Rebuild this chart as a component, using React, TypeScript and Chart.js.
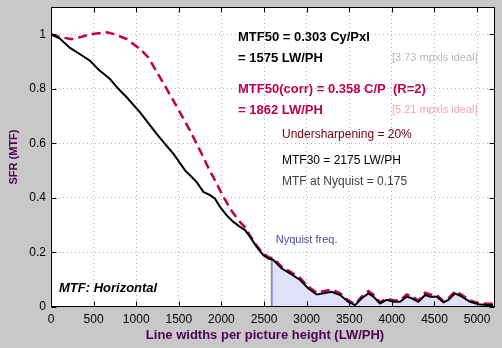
import React, { useEffect, useRef } from 'react';
import { Chart, registerables } from 'chart.js';

Chart.register(...registerables);

// Measured MTF (black solid)
const mtfFreq = [0, 100, 223, 350, 458, 560, 692, 790, 888, 1045, 1140, 1240, 1340, 1436, 1520, 1575, 1631, 1710, 1788, 1866, 1925, 1984, 2062, 2140, 2218, 2277, 2336, 2414, 2492, 2551, 2590, 2610, 2708, 2805, 2923, 3020, 3118, 3196, 3294, 3392, 3490, 3568, 3646, 3724, 3783, 3861, 3940, 4018, 4096, 4174, 4233, 4311, 4390, 4448, 4527, 4605, 4663, 4742, 4820, 4918, 5016, 5113, 5188];
const mtfValue = [1.0, 0.985, 0.95, 0.925, 0.903, 0.87, 0.836, 0.8, 0.769, 0.714, 0.675, 0.635, 0.597, 0.562, 0.525, 0.5, 0.483, 0.458, 0.422, 0.41, 0.397, 0.367, 0.336, 0.312, 0.294, 0.282, 0.257, 0.22, 0.19, 0.178, 0.175, 0.172, 0.141, 0.123, 0.099, 0.068, 0.046, 0.05, 0.056, 0.044, 0.019, 0.007, 0.032, 0.05, 0.038, 0.013, 0.026, 0.019, 0.019, 0.038, 0.032, 0.019, 0.044, 0.038, 0.038, 0.017, 0.026, 0.05, 0.038, 0.019, 0.01, 0.007, 0.007];

// Corrected MTF (crimson dashed)
const corrFreq = [0, 100, 243, 350, 458, 560, 653, 751, 888, 1045, 1142, 1279, 1436, 1631, 1768, 1862, 1905, 2003, 2101, 2199, 2277, 2336, 2414, 2492, 2551, 2610, 2708, 2805, 2923, 3020, 3118, 3196, 3294, 3392, 3490, 3568, 3646, 3724, 3783, 3861, 3940, 4018, 4096, 4174, 4233, 4311, 4390, 4448, 4527, 4605, 4663, 4742, 4820, 4918, 5016, 5113, 5188];
const corrValue = [1.0, 0.99, 0.982, 0.99, 1.0, 1.004, 1.007, 1.0, 0.982, 0.946, 0.915, 0.842, 0.757, 0.647, 0.562, 0.5, 0.476, 0.416, 0.361, 0.318, 0.292, 0.262, 0.224, 0.195, 0.183, 0.178, 0.147, 0.13, 0.106, 0.074, 0.052, 0.058, 0.064, 0.05, 0.024, 0.01, 0.038, 0.058, 0.045, 0.017, 0.031, 0.024, 0.024, 0.046, 0.04, 0.024, 0.052, 0.046, 0.044, 0.021, 0.032, 0.058, 0.045, 0.024, 0.014, 0.012, 0.012];

const xTickValues = [0, 500, 1000, 1500, 2000, 2500, 3000, 3500, 4000, 4500, 5000];
const yTickValues = [0, 0.2, 0.4, 0.6, 0.8, 1];
const xMax = 5210;
const yMax = 1.1;
const nyquistFreq = 2590;
const nyquistMtf = 0.175;

const FONT = '"Liberation Sans", Arial, sans-serif';

const framePlugin = {
  id: 'sfrFrame',
  beforeDraw(chart: any) {
    const { ctx, width, height, chartArea: a } = chart;
    ctx.save();
    ctx.fillStyle = '#c8c8c8';
    ctx.fillRect(0, 0, width, height);
    ctx.fillStyle = '#ffffff';
    ctx.fillRect(a.left, a.top, a.right - a.left, a.bottom - a.top);
    ctx.restore();
  },
  afterDatasetsDraw(chart: any) {
    const { ctx, chartArea: a, scales } = chart;
    const xs = scales.x;
    const ys = scales.y;
    const L = Math.round(a.left) + 0.5;
    const R = Math.round(a.right) - 0.5;
    const T = Math.round(a.top) + 0.5;
    const B = Math.round(a.bottom) - 0.5;
    ctx.save();
    ctx.strokeStyle = '#000';
    ctx.lineWidth = 1;
    ctx.setLineDash([]);
    ctx.strokeRect(L, T, R - L, B - T);
    ctx.beginPath();
    const tl = 5;
    xTickValues.forEach((v) => {
      const px = Math.round(xs.getPixelForValue(v)) + 0.5;
      ctx.moveTo(px, B); ctx.lineTo(px, B - tl);
      ctx.moveTo(px, T); ctx.lineTo(px, T + tl);
    });
    yTickValues.forEach((v) => {
      const py = Math.round(ys.getPixelForValue(v)) + 0.5;
      ctx.moveTo(L, py); ctx.lineTo(L + tl, py);
      ctx.moveTo(R, py); ctx.lineTo(R - tl, py);
    });
    ctx.stroke();

    const txt = (s: string, x: number, y: number, font: string, color: string, align: CanvasTextAlign = 'left') => {
      ctx.font = font;
      ctx.fillStyle = color;
      ctx.textAlign = align;
      ctx.textBaseline = 'middle';
      ctx.fillText(s, x, y);
    };
    txt('MTF50 = 0.303 Cy/Pxl', 238, 37, `bold 13px ${FONT}`, '#000000');
    txt('= 1575 LW/PH', 238, 58, `bold 13px ${FONT}`, '#000000');
    txt('[3.73 mpxls ideal]', 392, 58, `11px ${FONT}`, '#b8b8b8');
    txt('MTF50(corr) = 0.358 C/P  (R=2)', 238, 89, `bold 13px ${FONT}`, '#c0004e');
    txt('= 1862 LW/PH', 238, 110, `bold 13px ${FONT}`, '#c0004e');
    txt('[5.21 mpxls ideal]', 392, 110, `11px ${FONT}`, '#f0a8a8');
    txt('Undersharpening = 20%', 282, 135, `12px ${FONT}`, '#700010');
    txt('MTF30 = 2175 LW/PH', 282, 161, `12px ${FONT}`, '#000000');
    txt('MTF at Nyquist = 0.175', 282, 182, `12px ${FONT}`, '#404040');
    txt('MTF: Horizontal', 59, 288, `italic bold 13px ${FONT}`, '#000000');
    const nx = xs.getPixelForValue(nyquistFreq);
    txt('Nyquist freq.', nx + 4, 240, `11px ${FONT}`, '#4a4a9a');
    txt('Line widths per picture height (LW/PH)', 265, 335, `bold 13px ${FONT}`, '#500050', 'center');
    ctx.restore();
  },
};

export default function App() {
  const ref = useRef<HTMLCanvasElement | null>(null);
  useEffect(() => {
    if (!ref.current) return;
    const mtfPts = mtfFreq.map((x, i) => ({ x, y: mtfValue[i] }));
    const corrPts = corrFreq.map((x, i) => ({ x, y: corrValue[i] }));
    const fillPts = mtfPts.filter((p) => p.x >= nyquistFreq);
    const chart = new Chart(ref.current, {
      type: 'line',
      data: {
        datasets: [
          {
            label: 'MTF',
            data: mtfPts,
            borderColor: '#000000',
            borderWidth: 2,
            pointRadius: 0,
            tension: 0,
            fill: false,
            order: 0,
          },
          {
            label: 'MTF corr',
            data: corrPts,
            borderColor: '#c0004e',
            borderWidth: 2.5,
            borderDash: [9, 5],
            pointRadius: 0,
            tension: 0,
            fill: false,
            order: 1,
          },
          {
            label: 'Nyquist',
            data: [{ x: nyquistFreq, y: 0 }, { x: nyquistFreq, y: nyquistMtf }],
            borderColor: '#8c8cc8',
            borderWidth: 2,
            pointRadius: 0,
            fill: false,
            order: 2,
          },
          {
            label: 'Above Nyquist',
            data: fillPts,
            borderWidth: 0,
            borderColor: 'rgba(0,0,0,0)',
            backgroundColor: '#e0e0f8',
            pointRadius: 0,
            tension: 0,
            fill: 'origin',
            order: 3,
          },
        ],
      },
      options: {
        animation: false,
        responsive: false,
        devicePixelRatio: 1,
        layout: { padding: { left: 0, right: 7, top: 7, bottom: 0 } },
        plugins: { legend: { display: false }, tooltip: { enabled: false } },
        scales: {
          x: {
            type: 'linear',
            min: 0,
            max: xMax,
            afterBuildTicks: (s: any) => { s.ticks = xTickValues.map((v) => ({ value: v })); },
            afterFit: (s: any) => { s.height = 41; s.paddingLeft = 0; s.paddingRight = 0; },
            grid: { color: '#b4b4b4', drawTicks: false, lineWidth: 1 },
            border: { display: false, dash: [1, 3] },
            ticks: { color: '#000', font: { size: 12, family: FONT }, padding: 5, maxRotation: 0, autoSkip: false, callback: (v: any) => String(v) },
          },
          y: {
            type: 'linear',
            min: 0,
            max: yMax,
            afterBuildTicks: (s: any) => { s.ticks = yTickValues.map((v) => ({ value: v })); },
            afterFit: (s: any) => { s.width = 51; s.paddingTop = 0; s.paddingBottom = 0; },
            grid: { color: '#b4b4b4', drawTicks: false, lineWidth: 1 },
            border: { display: false, dash: [1, 3] },
            ticks: { color: '#000', font: { size: 12, family: FONT }, padding: 5, callback: (v: any) => String(v) },
            title: { display: true, text: 'SFR (MTF)', color: '#500050', font: { size: 11, weight: 'bold', family: FONT }, padding: { top: 7, bottom: 0 } },
          },
        },
      },
      plugins: [framePlugin],
    } as any);
    return () => chart.destroy();
  }, []);
  return (
    <div style={{ position: 'fixed', left: 0, top: 0, width: 502, height: 348 }}>
      <canvas ref={ref} width={502} height={348} style={{ display: 'block', width: 502, height: 348 }} />
    </div>
  );
}
